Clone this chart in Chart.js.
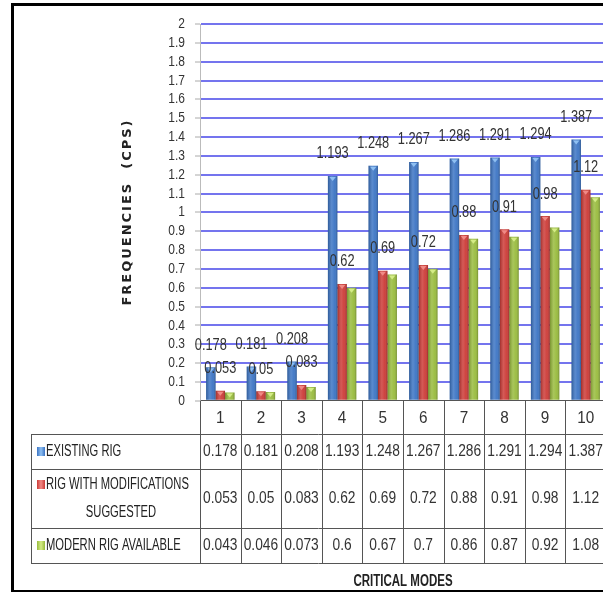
<!DOCTYPE html>
<html>
<head>
<meta charset="utf-8">
<title>Critical modes</title>
<script src="https://cdn.jsdelivr.net/npm/chart.js@4.4.1/dist/chart.umd.min.js"></script>
<style>
  html, body { margin: 0; padding: 0; background: #fff; overflow: hidden; }
  #wrap { position: relative; width: 606px; height: 592px; }
</style>
</head>
<body>
<div id="wrap"><canvas id="modes-chart" width="606" height="592"></canvas></div>
<script>
// Critical modes along the x axis
const modes = ['1', '2', '3', '4', '5', '6', '7', '8', '9', '10'];

// Frequencies (CPS) per mode for each rig
const existingRig = [0.178, 0.181, 0.208, 1.193, 1.248, 1.267, 1.286, 1.291, 1.294, 1.387];
const modifiedRig = [0.053, 0.05, 0.083, 0.62, 0.69, 0.72, 0.88, 0.91, 0.98, 1.12];
const modernRig = [0.043, 0.046, 0.073, 0.6, 0.67, 0.7, 0.86, 0.87, 0.92, 1.08];

// Series names and how they wrap in the data table
const seriesNames = ['EXISTING RIG', 'RIG WITH MODIFICATIONS SUGGESTED', 'MODERN RIG AVAILABLE'];
const tableRowLines = [['EXISTING RIG'], ['RIG WITH MODIFICATIONS', 'SUGGESTED'], ['MODERN RIG AVAILABLE']];

// Value axis range
const yMin = 0;
const yMax = 2;
const yStep = 0.1;

const SANS = '"Liberation Sans", Arial, sans-serif';
Chart.defaults.font.family = SANS;

const colors = ['#3b74c4', '#cc3a36', '#98bb3c'];
const capColors = ['#8fc0f2', '#f08a86', '#d4ec86'];

// Table rows (y pixels of the horizontal rules under the x axis)
const TABLE_LEFT = 31;
const ROW_RULES = [434, 469, 528, 563];

// Draw text squeezed horizontally, like a narrow face
const narrowText = (ctx, text, x, y, squeeze = 0.8) => {
    const w = ctx.measureText(text).width;
    ctx.fillText(text, x, y, w * squeeze);
};

// Soft cylinder-like shading and a light cap on every bar
const barShade = {
    id: 'barShade',
    afterDatasetsDraw(chart) {
        const ctx = chart.ctx;
        ctx.save();
        chart.data.datasets.forEach((ds, di) => {
            chart.getDatasetMeta(di).data.forEach(bar => {
                const w = bar.width;
                const left = bar.x - w / 2;
                const h = bar.base - bar.y;
                const g = ctx.createLinearGradient(left, 0, left + w, 0);
                g.addColorStop(0, 'rgba(0,0,0,0.22)');
                g.addColorStop(0.4, 'rgba(255,255,255,0.16)');
                g.addColorStop(0.7, 'rgba(255,255,255,0.05)');
                g.addColorStop(1, 'rgba(0,0,0,0.25)');
                ctx.fillStyle = g;
                ctx.fillRect(left, bar.y, w, h);
                ctx.fillStyle = capColors[di];
                ctx.beginPath();
                ctx.moveTo(left + 1.5, bar.y + 1);
                ctx.lineTo(left + w - 1.5, bar.y + 1);
                ctx.lineTo(bar.x, bar.y + 5);
                ctx.closePath();
                ctx.fill();
            });
        });
        ctx.restore();
    }
};

// Value labels above the first two series
const barValues = {
    id: 'barValues',
    afterDatasetsDraw(chart) {
        const ctx = chart.ctx;
        ctx.save();
        ctx.font = '16px ' + SANS;
        ctx.fillStyle = '#333';
        ctx.textAlign = 'center';
        ctx.textBaseline = 'middle';
        [0, 1].forEach(di => {
            const values = chart.data.datasets[di].data;
            chart.getDatasetMeta(di).data.forEach((bar, i) => {
                narrowText(ctx, String(values[i]), bar.x, bar.y - 22);
            });
        });
        ctx.restore();
    }
};

// Axis tick labels in the narrow style
const axisLabels = {
    id: 'axisLabels',
    afterDraw(chart) {
        const ctx = chart.ctx;
        const y = chart.scales.y;
        const x = chart.scales.x;
        ctx.save();
        ctx.fillStyle = '#333';
        ctx.textBaseline = 'middle';
        ctx.font = '15px ' + SANS;
        ctx.textAlign = 'right';
        y.ticks.forEach(t => {
            narrowText(ctx, Number(t.value.toFixed(1)).toString(), 185, y.getPixelForValue(t.value));
        });
        ctx.font = '17px ' + SANS;
        ctx.textAlign = 'center';
        chart.data.labels.forEach((lab, i) => {
            narrowText(ctx, lab, x.getPixelForValue(i), 418, 0.9);
        });
        ctx.restore();
    }
};

// Frame, axis titles and the data table below the plot
const tableAndFrame = {
    id: 'tableAndFrame',
    afterDraw(chart) {
        const ctx = chart.ctx;
        const area = chart.chartArea;
        const n = modes.length;
        const colW = (area.right - area.left) / n;
        const tableBottom = ROW_RULES[ROW_RULES.length - 1];

        ctx.save();

        // table rules
        ctx.strokeStyle = '#555';
        ctx.lineWidth = 1;
        ctx.beginPath();
        for (let i = 0; i <= n; i++) {
            const x = Math.round(area.left + i * colW) + 0.5;
            ctx.moveTo(x, area.bottom);
            ctx.lineTo(x, tableBottom);
        }
        ROW_RULES.forEach(y => {
            ctx.moveTo(TABLE_LEFT, y + 0.5);
            ctx.lineTo(area.right, y + 0.5);
        });
        ctx.moveTo(TABLE_LEFT + 0.5, ROW_RULES[0]);
        ctx.lineTo(TABLE_LEFT + 0.5, tableBottom);
        ctx.stroke();

        // table values
        const rows = chart.data.datasets.map(ds => ds.data);
        ctx.fillStyle = '#333';
        ctx.font = '16px ' + SANS;
        ctx.textAlign = 'center';
        ctx.textBaseline = 'middle';
        rows.forEach((vals, r) => {
            const cy = (ROW_RULES[r] + ROW_RULES[r + 1]) / 2;
            vals.forEach((v, i) => {
                narrowText(ctx, String(v), area.left + (i + 0.5) * colW, cy, 0.86);
            });
        });

        // row names with legend keys
        ctx.font = '16px ' + SANS;
        tableRowLines.forEach((lines, r) => {
            const cy = (ROW_RULES[r] + ROW_RULES[r + 1]) / 2;
            const lineH = 28;
            const y0 = cy - (lines.length - 1) * lineH / 2;
            const g = ctx.createLinearGradient(37, 0, 45, 0);
            g.addColorStop(0, colors[r]);
            g.addColorStop(0.5, capColors[r]);
            g.addColorStop(1, colors[r]);
            ctx.fillStyle = g;
            ctx.fillRect(37, y0 - 4.5, 8, 9);
            ctx.fillStyle = '#222';
            lines.forEach((line, k) => {
                if (k === 0) {
                    ctx.textAlign = 'left';
                    narrowText(ctx, line, 46, y0, 0.7);
                } else {
                    ctx.textAlign = 'center';
                    narrowText(ctx, line, 121, y0 + k * lineH, 0.7);
                }
            });
        });

        // x axis title
        ctx.font = 'bold 16px ' + SANS;
        ctx.textAlign = 'center';
        ctx.fillStyle = '#222';
        narrowText(ctx, 'CRITICAL MODES', (area.left + area.right) / 2, 582, 0.72);

        // y axis title
        ctx.save();
        ctx.translate(128, 212);
        ctx.rotate(-Math.PI / 2);
        ctx.font = 'bold 13px "DejaVu Sans", sans-serif';
        ctx.letterSpacing = '2px';
        ctx.fillText('FREQUENCIES  (CPS)', 0, 0);
        ctx.restore();

        // outer frame
        ctx.strokeStyle = '#000';
        ctx.lineWidth = 3;
        ctx.beginPath();
        ctx.moveTo(12.5, 3);
        ctx.lineTo(12.5, 592);
        ctx.moveTo(11, 4.5);
        ctx.lineTo(chart.width, 4.5);
        ctx.stroke();
        ctx.lineWidth = 2;
        ctx.beginPath();
        ctx.moveTo(11, 591);
        ctx.lineTo(chart.width, 591);
        ctx.stroke();

        ctx.restore();
    }
};

const chartElement = document.getElementById('modes-chart');

new Chart(chartElement.getContext('2d'), {
    type: 'bar',
    data: {
        labels: modes,
        datasets: [
            { label: seriesNames[0], data: existingRig, backgroundColor: colors[0] },
            { label: seriesNames[1], data: modifiedRig, backgroundColor: colors[1] },
            { label: seriesNames[2], data: modernRig, backgroundColor: colors[2] }
        ]
    },
    options: {
        responsive: false,
        animation: false,
        layout: { padding: { top: 24, right: 0, bottom: 0, left: 0 } },
        datasets: {
            bar: { categoryPercentage: 0.7, barPercentage: 1.0 }
        },
        scales: {
            x: {
                grid: { display: false, drawTicks: false },
                border: { display: true, color: '#555', width: 1 },
                ticks: { display: false },
                afterFit: axis => { axis.height = 592 - 400.7; }
            },
            y: {
                min: yMin,
                max: yMax,
                grid: {
                    color: c => (c.tick && c.tick.value === 0 ? 'rgba(0,0,0,0)' : '#7474ee'),
                    lineWidth: 2,
                    tickColor: '#aaa',
                    tickLength: 5,
                    tickWidth: 1
                },
                border: { display: true, color: '#bbb', width: 1 },
                ticks: {
                    display: false,
                    stepSize: yStep,
                    autoSkip: false,
                    maxTicksLimit: 40
                },
                afterFit: axis => { axis.width = 200; }
            }
        },
        plugins: {
            legend: { display: false },
            tooltip: { enabled: false }
        }
    },
    plugins: [barShade, barValues, axisLabels, tableAndFrame]
});
</script>
</body>
</html>
